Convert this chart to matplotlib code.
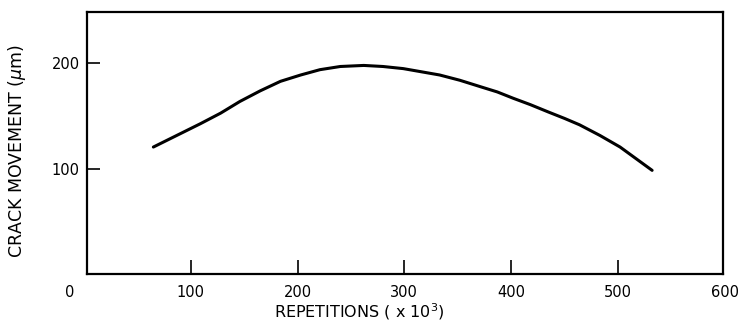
import matplotlib
matplotlib.use("Agg")
import matplotlib.pyplot as plt

# Data
repetitions = [65, 85, 109, 128, 146, 165, 184, 203, 221, 240, 262, 280, 299,
               316, 333, 352, 371, 387, 402, 418, 435, 450, 464, 483, 502, 517, 532]
crack_movement = [121, 131, 143, 153, 164, 174, 183, 189, 194, 197, 198, 197, 195,
                  192, 189, 184, 178, 173, 167, 161, 154, 148, 142, 132, 121, 110, 99]

x_ticks = [100, 200, 300, 400, 500]
x_ticklabels = ["100", "200", "300", "400", "500"]
y_ticks = [100, 200]
y_ticklabels = ["100", "200"]
x_end_labels = [(0, "0", -10), (600, "600", 0)]

plt.rcParams['font.family'] = ['DejaVu Sans']

fig = plt.figure(figsize=(7.4, 3.24), dpi=100)
ax = fig.add_axes([0.1172, 0.1543, 0.8603, 0.8086])

ax.plot(repetitions, crack_movement, color='black', linewidth=2.2,
        solid_capstyle='round', solid_joinstyle='round')

ax.set_xlim(2.6, 598.7)
ax.set_ylim(1.2, 248.4)

for s in ax.spines.values():
    s.set_linewidth(1.6)
    s.set_color('black')

ax.set_xticks(x_ticks)
ax.set_xticklabels(x_ticklabels)
ax.set_yticks(y_ticks)
ax.set_yticklabels(y_ticklabels)
ax.tick_params(axis='x', direction='in', length=10, width=1.2, pad=8,
               labelsize=10.5, colors='black')
ax.tick_params(axis='y', direction='in', length=9.5, width=1.2, pad=5,
               labelsize=10.5, colors='black')

for xv, lab, dx in x_end_labels:
    ax.annotate(lab, xy=(xv, 0), xycoords=('data', 'axes fraction'),
                xytext=(dx, -8), textcoords='offset points',
                ha='center', va='top', fontsize=10.5, color='black')

ax.set_xlabel("REPETITIONS ( x 10$^{3}$)", fontsize=11.5)
ax.xaxis.set_label_coords(0.428, -0.103)
ax.set_ylabel("CRACK MOVEMENT ($\\mu$m)", fontsize=12.5)
ax.yaxis.set_label_coords(-0.092, 0.469)

fig.savefig("out.png", dpi=100)
